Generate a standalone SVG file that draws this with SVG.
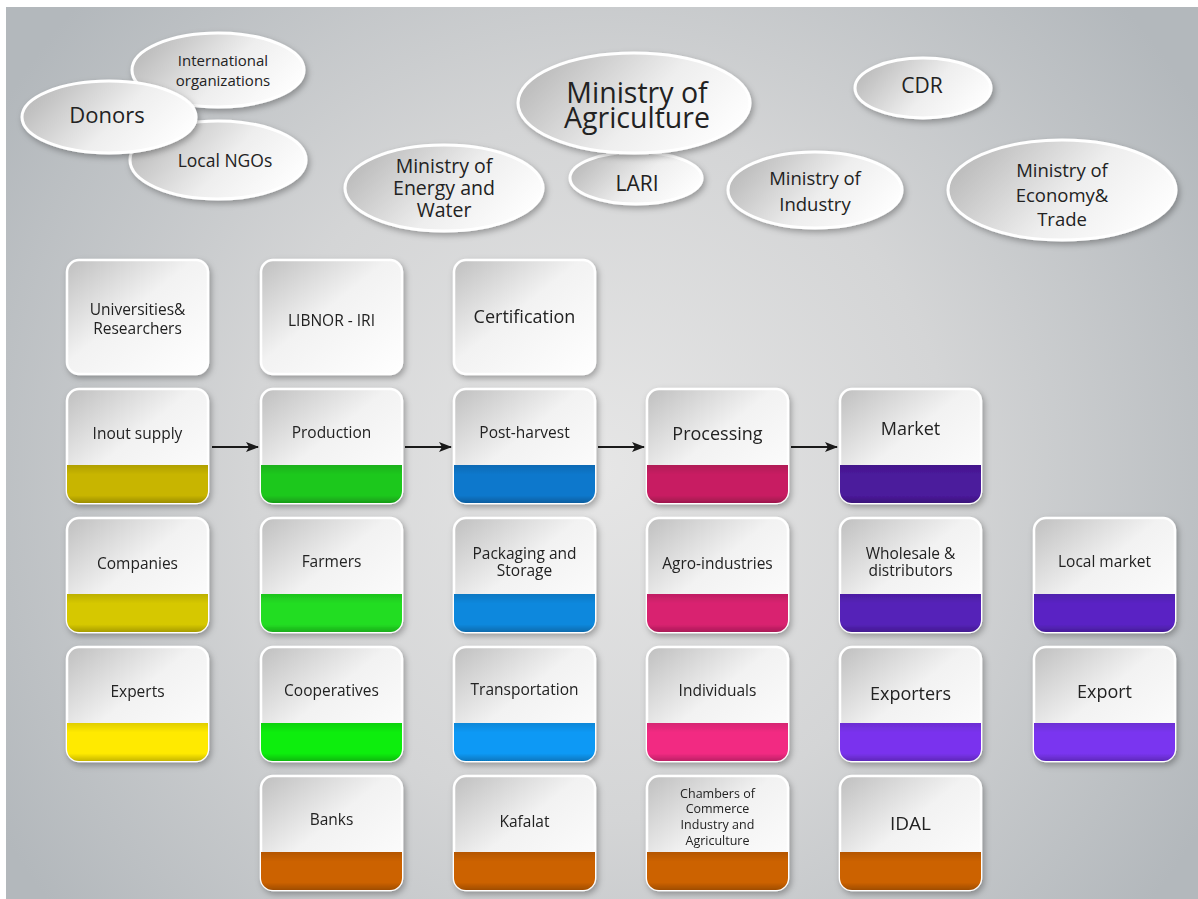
<svg xmlns="http://www.w3.org/2000/svg" xmlns:xlink="http://www.w3.org/1999/xlink" width="1198" height="899" viewBox="0 0 1198 899">
<defs>
<radialGradient id="bg" cx="600" cy="470" r="700" gradientUnits="userSpaceOnUse">
<stop offset="0" stop-color="#e6e6e6"/>
<stop offset="0.5" stop-color="#d4d5d6"/>
<stop offset="1" stop-color="#b3b8bc"/>
</radialGradient>
<linearGradient id="cardGrad" x1="0" y1="0" x2="1" y2="1">
<stop offset="0" stop-color="#bfbfbf"/>
<stop offset="0.45" stop-color="#f2f2f2"/>
<stop offset="1" stop-color="#ffffff"/>
</linearGradient>
<linearGradient id="ellGrad" x1="0" y1="0.3" x2="1" y2="0.7">
<stop offset="0" stop-color="#b9b9b9"/>
<stop offset="0.55" stop-color="#eeeeee"/>
<stop offset="1" stop-color="#ffffff"/>
</linearGradient>
<linearGradient id="bandShade" x1="0" y1="0" x2="0" y2="1">
<stop offset="0" stop-color="#000" stop-opacity="0.12"/>
<stop offset="0.25" stop-color="#000" stop-opacity="0"/>
<stop offset="0.8" stop-color="#000" stop-opacity="0"/>
<stop offset="1" stop-color="#000" stop-opacity="0.22"/>
</linearGradient>
<filter id="sh" x="-20%" y="-20%" width="140%" height="150%">
<feDropShadow dx="2" dy="3" stdDeviation="3" flood-color="#000" flood-opacity="0.3"/>
</filter>
<rect id="body" width="141" height="114" rx="12" ry="12" fill="url(#cardGrad)" stroke="#ffffff" stroke-width="2.5"/>
<path id="band" d="M0,76 H141 V102 A12,12 0 0 1 129,114 H12 A12,12 0 0 1 0,102 Z"/>
<marker id="arr" markerUnits="userSpaceOnUse" markerWidth="14" markerHeight="10" refX="12" refY="5" orient="auto">
<path d="M0,0 L13,5 L0,10 L3,5 Z" fill="#1a1a1a"/>
</marker>
</defs>
<style>
text{font-family:"Open Sans","Noto Sans",sans-serif;fill:#222;text-anchor:middle;dominant-baseline:central}
.c{font-size:15.5px}
.s{font-size:12.5px}
.b{font-size:18px}
.ell{fill:url(#ellGrad);stroke:#fff;stroke-width:3;filter:url(#sh)}
.card{filter:url(#sh)}
</style>
<rect x="0" y="0" width="1198" height="899" fill="#ffffff"/>
<rect x="6" y="7" width="1192" height="892" fill="url(#bg)"/>

<g id="int-org"><ellipse class="ell" cx="218" cy="70" rx="86" ry="37"/><text x="223" y="60" style="font-size:15px">International</text><text x="223" y="80" style="font-size:15px">organizations</text></g>
<g id="local-ngos"><ellipse class="ell" cx="218" cy="160" rx="88" ry="39"/><text x="225" y="160" style="font-size:17.5px">Local NGOs</text></g>
<g id="donors"><ellipse class="ell" cx="109" cy="117" rx="87" ry="36"/><text x="107" y="114" style="font-size:22px">Donors</text></g>
<g id="energy"><ellipse class="ell" cx="444" cy="188" rx="99" ry="43"/><text x="444" y="165" style="font-size:19.5px">Ministry of</text><text x="444" y="187" style="font-size:19.5px">Energy and</text><text x="444" y="209" style="font-size:19.5px">Water</text></g>
<g id="lari"><ellipse class="ell" cx="636" cy="178" rx="66" ry="26"/><text x="637" y="183" style="font-size:21px">LARI</text></g>
<g id="agriculture"><ellipse class="ell" cx="634" cy="103" rx="116" ry="50"/><text x="637" y="92" style="font-size:28.5px">Ministry of</text><text x="637" y="117" style="font-size:28.5px">Agriculture</text></g>
<g id="cdr"><ellipse class="ell" cx="923" cy="88" rx="68" ry="30"/><text x="922" y="85" style="font-size:21px">CDR</text></g>
<g id="industry"><ellipse class="ell" cx="815" cy="190" rx="87" ry="38"/><text x="815" y="177" style="font-size:18.5px">Ministry of</text><text x="815" y="203" style="font-size:18.5px">Industry</text></g>
<g id="economy"><ellipse class="ell" cx="1062" cy="190" rx="114" ry="50"/><text x="1062" y="169" style="font-size:18.5px">Ministry of</text><text x="1062" y="194" style="font-size:18.5px">Economy&amp;</text><text x="1062" y="218" style="font-size:18.5px">Trade</text></g>

<g id="connectors" stroke="#1a1a1a" stroke-width="2" fill="none" marker-end="url(#arr)">
<line x1="212" y1="447" x2="258" y2="447"/>
<line x1="405" y1="447" x2="451" y2="447"/>
<line x1="598" y1="447" x2="644" y2="447"/>
<line x1="791" y1="447" x2="837" y2="447"/>
</g>

<g id="universities" class="card" transform="translate(67,260)"><use xlink:href="#body"/><text class="c" x="70.5" y="49">Universities&amp;</text><text class="c" x="70.5" y="68">Researchers</text></g>
<g id="libnor" class="card" transform="translate(261,260)"><use xlink:href="#body"/><text class="c" x="70.5" y="60">LIBNOR - IRI</text></g>
<g id="certification" class="card" transform="translate(454,260)"><use xlink:href="#body"/><text class="b" x="70.5" y="56">Certification</text></g>

<g id="inout-supply" class="card" transform="translate(67,389)"><use xlink:href="#body"/><use xlink:href="#band" fill="#c8b500"/><use xlink:href="#band" fill="url(#bandShade)"/><text class="c" x="70.5" y="44">Inout supply</text></g>
<g id="production" class="card" transform="translate(261,389)"><use xlink:href="#body"/><use xlink:href="#band" fill="#1ec81e"/><use xlink:href="#band" fill="url(#bandShade)"/><text class="c" x="70.5" y="43">Production</text></g>
<g id="post-harvest" class="card" transform="translate(454,389)"><use xlink:href="#body"/><use xlink:href="#band" fill="#0a78cc"/><use xlink:href="#band" fill="url(#bandShade)"/><text class="c" x="70.5" y="43">Post-harvest</text></g>
<g id="processing" class="card" transform="translate(647,389)"><use xlink:href="#body"/><use xlink:href="#band" fill="#c81e62"/><use xlink:href="#band" fill="url(#bandShade)"/><text class="b" x="70.5" y="44">Processing</text></g>
<g id="market" class="card" transform="translate(840,389)"><use xlink:href="#body"/><use xlink:href="#band" fill="#4b1a9c"/><use xlink:href="#band" fill="url(#bandShade)"/><text class="b" x="70.5" y="39">Market</text></g>

<g id="companies" class="card" transform="translate(67,518)"><use xlink:href="#body"/><use xlink:href="#band" fill="#d6c800"/><use xlink:href="#band" fill="url(#bandShade)"/><text class="c" x="70.5" y="45">Companies</text></g>
<g id="farmers" class="card" transform="translate(261,518)"><use xlink:href="#body"/><use xlink:href="#band" fill="#22dd22"/><use xlink:href="#band" fill="url(#bandShade)"/><text class="c" x="70.5" y="43">Farmers</text></g>
<g id="packaging" class="card" transform="translate(454,518)"><use xlink:href="#body"/><use xlink:href="#band" fill="#0a88dd"/><use xlink:href="#band" fill="url(#bandShade)"/><text class="c" x="70.5" y="35">Packaging and</text><text class="c" x="70.5" y="52">Storage</text></g>
<g id="agro-industries" class="card" transform="translate(647,518)"><use xlink:href="#body"/><use xlink:href="#band" fill="#d92270"/><use xlink:href="#band" fill="url(#bandShade)"/><text class="c" x="70.5" y="45">Agro-industries</text></g>
<g id="wholesale" class="card" transform="translate(840,518)"><use xlink:href="#body"/><use xlink:href="#band" fill="#5522b8"/><use xlink:href="#band" fill="url(#bandShade)"/><text class="c" x="70.5" y="35">Wholesale &amp;</text><text class="c" x="70.5" y="52">distributors</text></g>
<g id="local-market" class="card" transform="translate(1034,518)"><use xlink:href="#body"/><use xlink:href="#band" fill="#5a24c4"/><use xlink:href="#band" fill="url(#bandShade)"/><text class="c" x="70.5" y="43">Local market</text></g>

<g id="experts" class="card" transform="translate(67,647)"><use xlink:href="#body"/><use xlink:href="#band" fill="#ffea00"/><use xlink:href="#band" fill="url(#bandShade)"/><text class="c" x="70.5" y="44">Experts</text></g>
<g id="cooperatives" class="card" transform="translate(261,647)"><use xlink:href="#body"/><use xlink:href="#band" fill="#10ee10"/><use xlink:href="#band" fill="url(#bandShade)"/><text class="c" x="70.5" y="43">Cooperatives</text></g>
<g id="transportation" class="card" transform="translate(454,647)"><use xlink:href="#body"/><use xlink:href="#band" fill="#0899f5"/><use xlink:href="#band" fill="url(#bandShade)"/><text class="c" x="70.5" y="42">Transportation</text></g>
<g id="individuals" class="card" transform="translate(647,647)"><use xlink:href="#body"/><use xlink:href="#band" fill="#f22a82"/><use xlink:href="#band" fill="url(#bandShade)"/><text class="c" x="70.5" y="43">Individuals</text></g>
<g id="exporters" class="card" transform="translate(840,647)"><use xlink:href="#body"/><use xlink:href="#band" fill="#7a33ee"/><use xlink:href="#band" fill="url(#bandShade)"/><text class="b" x="70.5" y="46">Exporters</text></g>
<g id="export" class="card" transform="translate(1034,647)"><use xlink:href="#body"/><use xlink:href="#band" fill="#7a35f0"/><use xlink:href="#band" fill="url(#bandShade)"/><text class="b" x="70.5" y="44">Export</text></g>

<g id="banks" class="card" transform="translate(261,776)"><use xlink:href="#body"/><use xlink:href="#band" fill="#cc6200"/><use xlink:href="#band" fill="url(#bandShade)"/><text class="c" x="70.5" y="43">Banks</text></g>
<g id="kafalat" class="card" transform="translate(454,776)"><use xlink:href="#body"/><use xlink:href="#band" fill="#cc6200"/><use xlink:href="#band" fill="url(#bandShade)"/><text class="c" x="70.5" y="45">Kafalat</text></g>
<g id="chambers" class="card" transform="translate(647,776)"><use xlink:href="#body"/><use xlink:href="#band" fill="#cc6200"/><use xlink:href="#band" fill="url(#bandShade)"/><text class="s" x="70.5" y="17">Chambers of</text><text class="s" x="70.5" y="32">Commerce</text><text class="s" x="70.5" y="48">Industry and</text><text class="s" x="70.5" y="64">Agriculture</text></g>
<g id="idal" class="card" transform="translate(840,776)"><use xlink:href="#body"/><use xlink:href="#band" fill="#cc6200"/><use xlink:href="#band" fill="url(#bandShade)"/><text x="70.5" y="47" style="font-size:19px">IDAL</text></g>
</svg>
